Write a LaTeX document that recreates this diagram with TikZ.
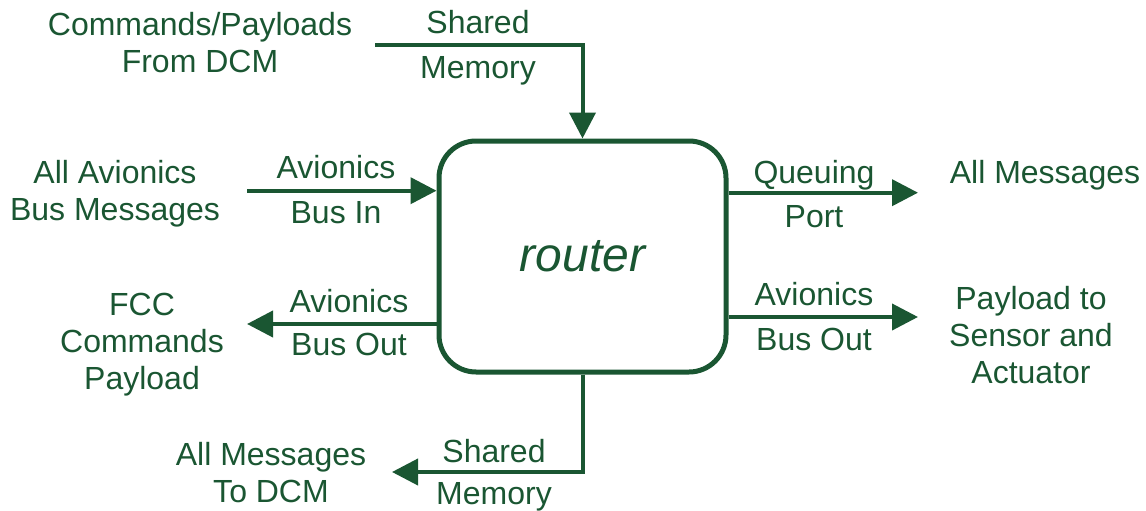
\documentclass[tikz,border=0pt]{standalone}
\usepackage{fontspec}
\setmainfont{Liberation Sans}
\usetikzlibrary{arrows.meta}
\definecolor{flowgreen}{HTML}{1A5632}
% multi-line label aligned on the baseline of its first line
\newcommand\lblstack[1]{\begin{tabular}[t]{@{}c@{}}#1\end{tabular}}
\begin{document}
\begin{tikzpicture}[x=1pt,y=-1pt,
  lbl/.style={anchor=base, inner sep=0pt, text=flowgreen,
    font=\fontsize{32}{37}\selectfont},
  flow/.style={draw=flowgreen, line width=4pt,
    -{Triangle[length=26pt,width=26pt]}},
  procbox/.style={draw=flowgreen, line width=5pt, rounded corners=37pt,
    minimum width=287pt, minimum height=231pt, inner sep=0pt,
    text=flowgreen, font=\fontsize{48}{56}\selectfont\itshape}]
\useasboundingbox (0,0) rectangle (1146,511);

% central process
\node[procbox] (router) at (582.5,256.5) {router};

% free ends of the connectors
\coordinate (topin)  at (375,45);
\coordinate (leftin) at (247,190.7);
\coordinate (leftout) at (247,324);
\coordinate (rightq) at (918,192.7);
\coordinate (rightb) at (918,317);
\coordinate (botout) at (392,472);

% connectors
\draw[flow] (topin) -| (router.north);
\draw[flow] (leftin) -- (router.west |- leftin);
\draw[flow] (router.west |- leftout) -- (leftout);
\draw[flow] (router.east |- rightq) -- (rightq);
\draw[flow] (router.east |- rightb) -- (rightb);
\draw[flow] (router.south) |- (botout);

% connector labels
\node[lbl] (smtop) at (478,34) {\lblstack{Shared\\[8pt] Memory}};
\node[lbl] (busin) at (336,178) {\lblstack{Avionics\\[8pt] Bus In}};
\node[lbl] (busoutl) at (349,312) {\lblstack{Avionics\\[6pt] Bus Out}};
\node[lbl] (qport) at (814,183) {\lblstack{Queuing\\[7pt] Port}};
\node[lbl] (busoutr) at (814,305) {\lblstack{Avionics\\[8pt] Bus Out}};
\node[lbl] (smbot) at (494,462) {\lblstack{Shared\\[5pt] Memory}};

% sources and destinations
\node[lbl] (cmds) at (200,36) {\lblstack{Commands/Payloads\\ From DCM}};
\node[lbl] (avmsgs) at (115,183) {\lblstack{All Avionics\\ Bus Messages}};
\node[lbl] (fcc) at (142,315) {\lblstack{FCC\\ Commands\\ Payload}};
\node[lbl] (allmsgs) at (1045,183) {All Messages};
\node[lbl] (payload) at (1031,309) {\lblstack{Payload to\\ Sensor and\\ Actuator}};
\node[lbl] (todcm) at (271,465) {\lblstack{All Messages\\ To DCM}};
\end{tikzpicture}
\end{document}
